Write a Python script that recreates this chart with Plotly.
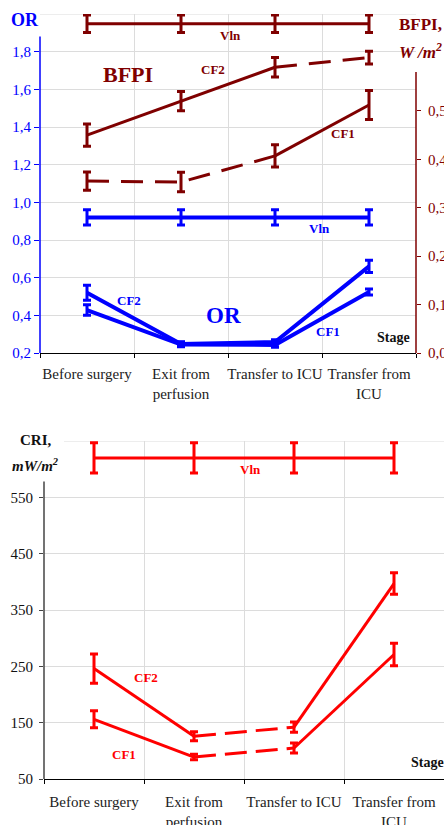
import plotly.graph_objects as go

# ---------------- data ----------------
stages = ["Before surgery", "Exit from<br>perfusion", "Transfer to ICU", "Transfer from<br>ICU"]

# BFPI, W/m^2 (right axis of top chart)
bfpi_vln = [0.68, 0.68, 0.68, 0.68]
bfpi_vln_err = [0.018, 0.018, 0.018, 0.018]
bfpi_cf2 = [0.45, 0.52, 0.59, 0.61]
bfpi_cf2_err = [0.023, 0.02, 0.02, 0.013]
bfpi_cf2_dash = ["solid", "solid", "dash"]
bfpi_cf1 = [0.355, 0.353, 0.407, 0.512]
bfpi_cf1_err = [0.019, 0.02, 0.023, 0.03]
bfpi_cf1_dash = ["dash", "dash", "solid"]

# OR (left axis of top chart)
or_vln = [0.92, 0.92, 0.92, 0.92]
or_vln_err = [0.04, 0.04, 0.04, 0.04]
or_cf2 = [0.52, 0.248, 0.258, 0.66]
or_cf2_err = [0.04, 0.012, 0.012, 0.032]
or_cf1 = [0.428, 0.245, 0.243, 0.524]
or_cf1_err = [0.028, 0.012, 0.012, 0.016]
or_dash = ["solid", "solid", "solid"]

# CRI, mW/m^2 (bottom chart)
cri_vln = [620, 620, 620, 620]
cri_vln_err = [27, 27, 27, 27]
cri_cf2 = [246, 126, 142, 397]
cri_cf2_err = [26, 8, 9, 19]
cri_cf1 = [156, 89, 105, 271]
cri_cf1_err = [15, 5, 9, 20]
cri_dash = ["solid", "dash", "solid"]

or_ticks = [0.2, 0.4, 0.6, 0.8, 1.0, 1.2, 1.4, 1.6, 1.8]
bfpi_ticks = [0.0, 0.1, 0.2, 0.3, 0.4, 0.5]
cri_ticks = [50, 150, 250, 350, 450, 550]

# ---------------- style ----------------
DARKRED = "#7f0000"
BLUE = "#0000ff"
RED = "#ff0000"
GRID = "#dcdcdc"
FONT = "Liberation Serif"
W, H = 444, 825


def px(x):
    return x / W


def py(y):
    return 1 - y / H


fig = go.Figure()


def add_series(vals, errs, dashes, color, width, xa, ya, dashpat):
    i = 0
    n = len(vals)
    while i < n - 1:
        j = i
        while j < n - 1 and dashes[j] == dashes[i]:
            j += 1
        fig.add_trace(go.Scatter(
            x=stages[i:j + 1], y=vals[i:j + 1], mode="lines",
            line=dict(color=color, width=width,
                      dash=("solid" if dashes[i] == "solid" else dashpat)),
            xaxis=xa, yaxis=ya, showlegend=False, hoverinfo="skip"))
        i = j
    fig.add_trace(go.Scatter(
        x=stages, y=vals, mode="markers",
        marker=dict(size=1, color=color, opacity=0),
        error_y=dict(type="data", array=errs, visible=True, color=color,
                     thickness=3, width=4),
        xaxis=xa, yaxis=ya, showlegend=False))


add_series(bfpi_vln, bfpi_vln_err, ["solid"] * 3, DARKRED, 3, "x", "y2", "solid")
add_series(bfpi_cf2, bfpi_cf2_err, bfpi_cf2_dash, DARKRED, 3, "x", "y2", "22px,12px")
add_series(bfpi_cf1, bfpi_cf1_err, bfpi_cf1_dash, DARKRED, 3, "x", "y2", "22px,12px")
add_series(or_vln, or_vln_err, or_dash, BLUE, 4, "x", "y", "solid")
add_series(or_cf2, or_cf2_err, or_dash, BLUE, 4, "x", "y", "solid")
add_series(or_cf1, or_cf1_err, or_dash, BLUE, 4, "x", "y", "solid")
add_series(cri_vln, cri_vln_err, ["solid"] * 3, RED, 3, "x2", "y3", "solid")
add_series(cri_cf2, cri_cf2_err, cri_dash, RED, 3, "x2", "y3", "22px,9px")
add_series(cri_cf1, cri_cf1_err, cri_dash, RED, 3, "x2", "y3", "22px,9px")

xcommon = dict(type="category", tickson="boundaries", ticks="outside", ticklen=4,
               tickcolor="#000", showline=True, linecolor="#000", linewidth=1,
               showgrid=True, gridcolor=GRID, gridwidth=1, zeroline=False,
               tickangle=0, automargin=False,
               tickfont=dict(family=FONT, size=15, color="#222"),
               range=[-0.5, 3.5], fixedrange=True)

fig.update_layout(
    width=W, height=H, margin=dict(l=0, r=0, t=0, b=0, autoexpand=False),
    paper_bgcolor="white", plot_bgcolor="white", showlegend=False,
    font=dict(family=FONT),
    xaxis=dict(domain=[px(40), px(416)], anchor="y", ticklabelstandoff=7, **xcommon),
    yaxis=dict(domain=[py(353), py(14)], range=[0.2, 2.0], anchor="x",
               tickvals=or_ticks, ticktext=[f"{v:.1f}".replace(".", ",") for v in or_ticks],
               ticks="outside", ticklen=5, tickcolor=BLUE, showline=False,
               showgrid=True, gridcolor=GRID, zeroline=False, automargin=False,
               tickfont=dict(family=FONT, size=15, color=BLUE)),
    yaxis2=dict(overlaying="y", side="right", anchor="x", range=[0, 0.7],
                tickvals=bfpi_ticks,
                ticktext=[f"{v:.1f}".replace(".", ",") for v in bfpi_ticks],
                ticks="outside", ticklen=4, tickcolor=DARKRED, showline=False,
                showgrid=False, zeroline=False, automargin=False,
                ticklabelstandoff=4,
                tickfont=dict(family=FONT, size=15, color=DARKRED)),
    xaxis2=dict(domain=[px(44), 1.0], anchor="y3", ticklabelstandoff=9, **xcommon),
    yaxis3=dict(domain=[py(779), py(441)], range=[50, 650], anchor="x2",
                tickvals=cri_ticks, ticktext=[str(v) for v in cri_ticks],
                ticks="outside", ticklen=4, tickcolor="#444", showline=False,
                showgrid=True, gridcolor=GRID, zeroline=False, automargin=False,
                ticklabelstandoff=3,
                tickfont=dict(family=FONT, size=15, color="#111")),
)

shapes = [
    dict(type="line", xref="x domain", yref="y", x0=0, x1=1, y0=2.0, y1=2.0,
         line=dict(color=GRID, width=1), layer="below"),
    dict(type="line", xref="x domain", yref="y", x0=0, x1=0, y0=0.2, y1=1.88,
         line=dict(color=BLUE, width=1.5)),
    dict(type="line", xref="x domain", yref="y2", x0=1, x1=1, y0=0, y1=0.58,
         line=dict(color=DARKRED, width=1.5)),
    dict(type="line", xref="x2 domain", yref="y3", x0=0.05, x1=1, y0=650, y1=650,
         line=dict(color=GRID, width=1), layer="below"),
    dict(type="line", xref="x2 domain", yref="y3", x0=0, x1=0, y0=50, y1=578,
         line=dict(color="#444", width=1.5)),
]
fig.update_layout(shapes=shapes)


def label(text, x, y, color, size, italic=False, bold=True, xanchor="center"):
    fig.add_annotation(text=text, x=px(x), y=py(y), xref="paper", yref="paper",
                       showarrow=False, xanchor=xanchor, yanchor="middle",
                       font=dict(family=FONT, size=size, color=color,
                                 weight="bold" if bold else "normal",
                                 style="italic" if italic else "normal"))


label("OR", 25, 20, BLUE, 18)
label("BFPI,", 420, 25, DARKRED, 17)
label("W /m<sup>2</sup>", 420, 51, DARKRED, 17, italic=True)
label("BFPI", 128, 74, DARKRED, 22)
label("CF2", 213, 70, DARKRED, 13)
label("Vln", 230, 35, DARKRED, 13)
label("CF1", 343, 133, DARKRED, 13)
label("Vln", 319, 228, BLUE, 13)
label("CF2", 129, 300, BLUE, 13)
label("OR", 223, 315, BLUE, 23)
label("CF1", 328, 332, BLUE, 13)
label("Stage", 393, 337, "#111", 14)

label("CRI,", 36, 440, "#111", 15)
label("mW/m<sup>2</sup>", 35, 465, "#111", 15, italic=True)
label("Vln", 250, 469, RED, 13)
label("CF2", 146, 677, RED, 13)
label("CF1", 124, 754, RED, 13)
label("Stage", 409, 762, "#111", 14, xanchor="left")

fig.write_html(
    "out.html",
    config={"displayModeBar": False},
    post_script="document.body.style.margin='0';document.body.style.overflow='hidden';",
)
